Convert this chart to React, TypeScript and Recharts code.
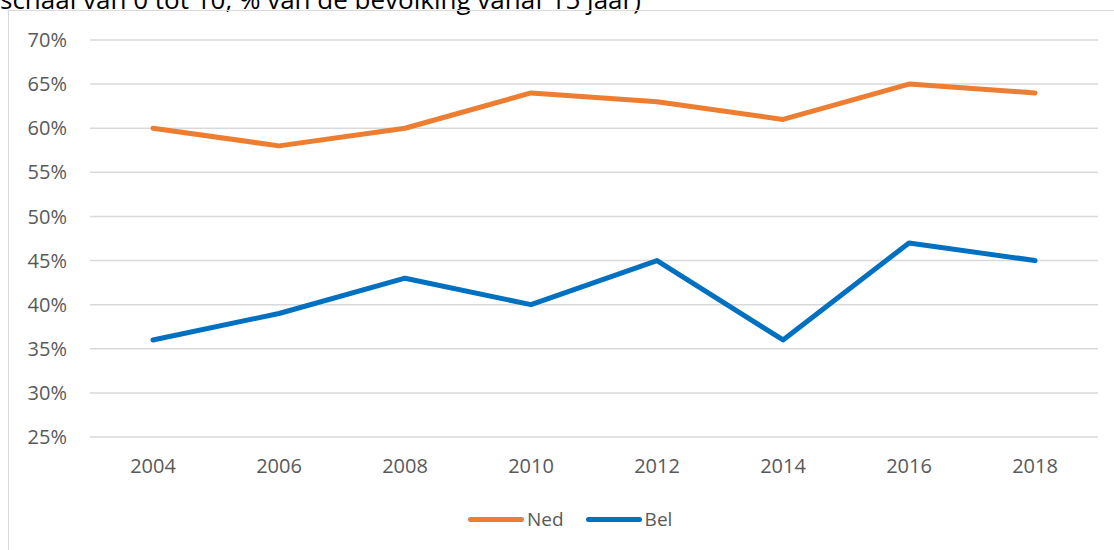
import React from 'react';
import { LineChart, Line, XAxis, YAxis, CartesianGrid } from 'recharts';

const years = ['2004', '2006', '2008', '2010', '2012', '2014', '2016', '2018'];
const ned = [60, 58, 60, 64, 63, 61, 65, 64];
const bel = [36, 39, 43, 40, 45, 36, 47, 45];
const yTicks = [25, 30, 35, 40, 45, 50, 55, 60, 65, 70];
const series = [
    { key: 'Ned', color: '#ED7D31' },
    { key: 'Bel', color: '#0070C0' },
];

const data = years.map((year, i) => ({ year, Ned: ned[i], Bel: bel[i] }));

const font = '"Open Sans", sans-serif';

export default function App() {
    return (
        <div style={{ position: 'absolute', left: 0, top: 0, width: 1114, height: 550, overflow: 'hidden', background: '#fff' }}>
            <div style={{ position: 'absolute', left: 0, top: -19, fontFamily: font, fontSize: 26, color: '#000', whiteSpace: 'nowrap' }}>
                schaal van 0 tot 10, % van de bevolking vanaf 15 jaar)
            </div>
            <div style={{ position: 'absolute', left: 8, top: 10, width: 1200, height: 600, border: '1px solid #d9d9d9' }} />
            <div style={{ position: 'absolute', left: 0, top: 0 }}>
                <LineChart width={1114} height={550} data={data} margin={{ top: 40, right: 16, left: 0, bottom: 83 }}>
                    <CartesianGrid vertical={false} stroke="#d9d9d9" strokeWidth={1.5} />
                    <XAxis
                        dataKey="year"
                        height={30}
                        padding={{ left: 63, right: 63 }}
                        axisLine={false}
                        tickLine={false}
                        tickSize={0}
                        tickMargin={22}
                        tick={{ fill: '#595959', fontSize: 20, fontFamily: font }}
                    />
                    <YAxis
                        width={90}
                        domain={[25, 70]}
                        ticks={yTicks}
                        axisLine={false}
                        tickLine={false}
                        tickSize={0}
                        tickMargin={23}
                        tickFormatter={(v) => `${v}%`}
                        tick={{ fill: '#595959', fontSize: 20, fontFamily: font }}
                    />
                    {series.map((s) => (
                        <Line key={s.key} dataKey={s.key} stroke={s.color} strokeWidth={5} strokeLinecap="round" strokeLinejoin="round" dot={false} isAnimationActive={false} />
                    ))}
                </LineChart>
            </div>
            <div style={{ position: 'absolute', left: 468, top: 506, display: 'flex', alignItems: 'center', fontFamily: font, fontSize: 19, color: '#595959' }}>
                {series.map((s) => (
                    <div key={s.key} style={{ display: 'flex', alignItems: 'center', marginRight: 22 }}>
                        <div style={{ width: 56, height: 5, borderRadius: 3, background: s.color }} />
                        <span style={{ marginLeft: 3 }}>{s.key}</span>
                    </div>
                ))}
            </div>
        </div>
    );
}
